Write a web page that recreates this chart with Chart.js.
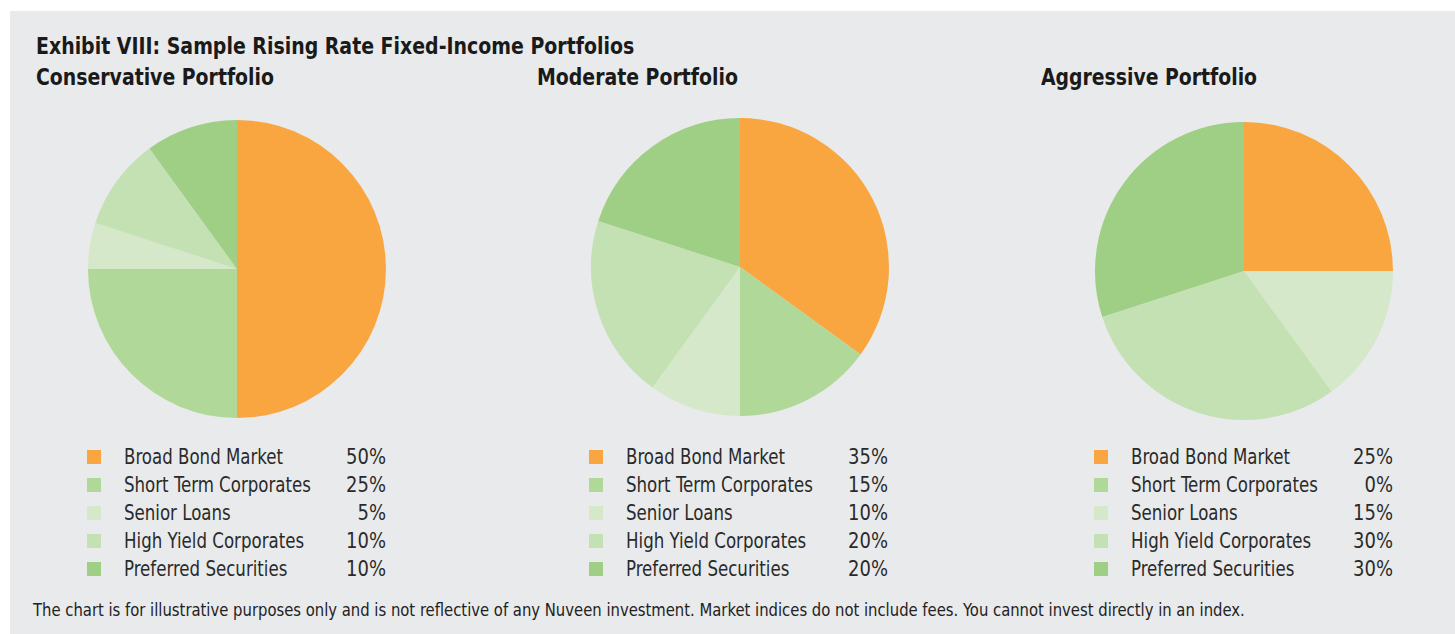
<!DOCTYPE html>
<html>
<head>
<meta charset="utf-8">
<script src="https://cdn.jsdelivr.net/npm/chart.js@4.4.1/dist/chart.umd.min.js"></script>
<style>
  html, body { margin:0; padding:0; background:#fff; }
  #frame { position:absolute; left:10px; top:11px; width:1445px; height:623px; background:#e9eaec; }
  .t { position:absolute; font-family:"DejaVu Sans Condensed",sans-serif; font-weight:bold; color:#1a1a1a; font-size:23px; white-space:nowrap; transform-origin:0 50%; }
  .pie { position:absolute; width:300px; height:300px; }
  .legend { position:absolute; width:300px; font-family:"DejaVu Sans Condensed",sans-serif; font-size:21px; color:#2a2a2a; }
  .row { position:relative; height:28px; line-height:28px; }
  .sw { position:absolute; left:0; top:7px; width:14px; height:14px; }
  .lab { position:absolute; left:37px; white-space:nowrap; transform:scaleX(0.88); transform-origin:0 50%; }
  .val { position:absolute; right:0; transform:scaleX(0.95); transform-origin:100% 50%; }
  #note { position:absolute; left:33px; top:600px; font-family:"DejaVu Sans Condensed",sans-serif; font-size:17px; color:#222; white-space:nowrap; transform-origin:0 50%; }
</style>
</head>
<body>
<div id="frame"></div>
<div class="t fit" data-w="598" style="left:36px;top:33px">Exhibit VIII: Sample Rising Rate Fixed-Income Portfolios</div>
<div class="t fit" data-w="238" style="left:36px;top:64px">Conservative Portfolio</div>
<div class="t fit" data-w="201" style="left:537px;top:64px">Moderate Portfolio</div>
<div class="t fit" data-w="216" style="left:1041px;top:64px">Aggressive Portfolio</div>

<div class="pie" style="left:87px;top:119px"><canvas id="pie-conservative" width="300" height="300"></canvas></div>
<div class="pie" style="left:590px;top:117px"><canvas id="pie-moderate" width="300" height="300"></canvas></div>
<div class="pie" style="left:1094px;top:121px"><canvas id="pie-aggressive" width="300" height="300"></canvas></div>

<div class="legend" id="leg-conservative" style="left:87px;top:443px;width:299px"></div>
<div class="legend" id="leg-moderate" style="left:589px;top:443px;width:299px"></div>
<div class="legend" id="leg-aggressive" style="left:1094px;top:443px;width:299px"></div>

<div id="note" class="fit" data-w="1212">The chart is for illustrative purposes only and is not reflective of any Nuveen investment. Market indices do not include fees. You cannot invest directly in an index.</div>

<script>
// ── Data ──
const CATEGORIES = ['Broad Bond Market','Short Term Corporates','Senior Loans','High Yield Corporates','Preferred Securities'];
const CONSERVATIVE = [50, 25, 5, 10, 10];
const MODERATE     = [35, 15, 10, 20, 20];
const AGGRESSIVE   = [25, 0, 15, 30, 30];

const SLICE_COLORS = ['#f9a641','#b0d898','#d5e8c9','#c4e1b4','#9ecf85'];

function drawPie(id, values) {
  return new Chart(document.getElementById(id), {
    type:'pie',
    data:{ labels:CATEGORIES, datasets:[{ data:values, backgroundColor:SLICE_COLORS, borderWidth:0 }] },
    options:{
      responsive:false, animation:false,
      layout:{ padding:1 },
      plugins:{ legend:{display:false}, tooltip:{enabled:false} }
    }
  });
}

function drawLegend(id, values) {
  document.getElementById(id).innerHTML = CATEGORIES.map((c, i) =>
    `<div class="row"><span class="sw" style="background:${SLICE_COLORS[i]}"></span><span class="lab">${c}</span><span class="val">${values[i]}%</span></div>`
  ).join('');
}

drawPie('pie-conservative', CONSERVATIVE);
drawPie('pie-moderate', MODERATE);
drawPie('pie-aggressive', AGGRESSIVE);
drawLegend('leg-conservative', CONSERVATIVE);
drawLegend('leg-moderate', MODERATE);
drawLegend('leg-aggressive', AGGRESSIVE);

// squeeze the headings / footnote to the condensed widths of the original
document.querySelectorAll('.fit').forEach(el => {
  const w = el.getBoundingClientRect().width;
  el.style.transform = `scaleX(${(+el.dataset.w / w).toFixed(3)})`;
});
</script>
</body>
</html>
